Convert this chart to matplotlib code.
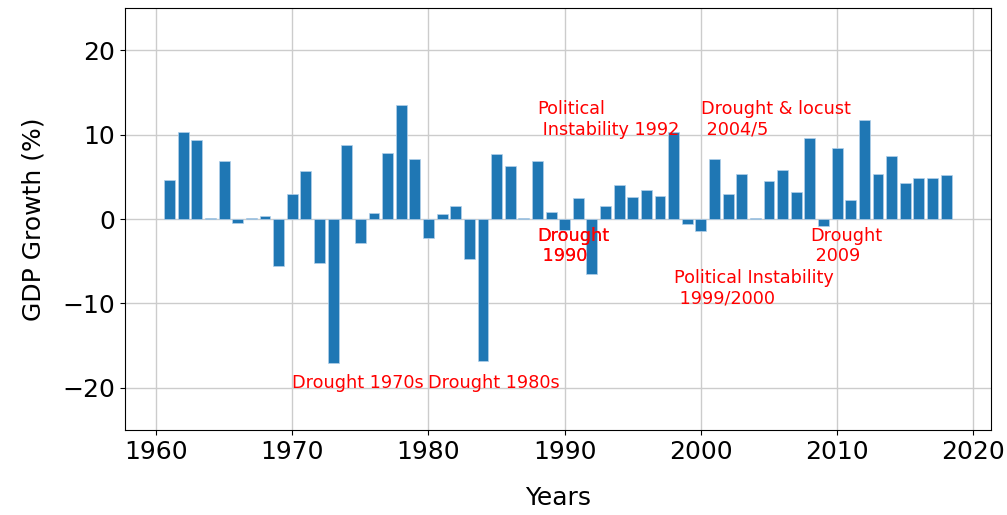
import matplotlib.pyplot as plt

years = list(range(1961, 2019))
growth = [4.6, 10.3, 9.4, 0.1, 6.9, -0.4, 0.1, 0.4, -5.5, 3.0,
          5.7, -5.2, -17.1, 8.8, -2.8, 0.7, 7.8, 13.5, 7.1, -2.2,
          0.6, 1.6, -4.7, -16.8, 7.7, 6.3, 0.1, 6.9, 0.9, -1.3,
          2.5, -6.5, 1.5, 4.0, 2.6, 3.4, 2.8, 10.3, -0.6, -1.4,
          7.1, 3.0, 5.3, 0.1, 4.5, 5.8, 3.2, 9.6, -0.8, 8.4,
          2.3, 11.8, 5.3, 7.5, 4.3, 4.9, 4.9, 5.2]

notes = ["Drought 1970s", "Drought 1980s", "Political\n Instability 1992",
         "Drought\n 1990", "Drought\n 1990", "Political Instability\n 1999/2000",
         "Drought & locust\n 2004/5", "Drought\n 2009"]
note_x = [1970, 1980, 1988, 1988, 1988, 1998, 2000, 2008]
note_y = [-20, -20, 10, -5, -5, -10, 10, -5]

fig = plt.figure(figsize=(10.07, 5.15), dpi=100)
ax = fig.add_axes([0.124, 0.165, 0.86, 0.819])
ax.bar(years, growth, width=0.8, color='#1f77b4', edgecolor='#b3d0ea', linewidth=0.5, zorder=2)
ax.set_ylim(-25, 25)
ax.set_yticks([-20, -10, 0, 10, 20])
ax.grid(True, color='#cccccc', linewidth=1, zorder=0)
ax.set_axisbelow(True)
ax.tick_params(labelsize=18)
ax.set_xlabel('Years', fontsize=18, labelpad=16)
ax.set_ylabel('GDP Growth (%)', fontsize=18, labelpad=12)

for t, x, y in zip(notes, note_x, note_y):
    ax.annotate(t, (x, y), color='red', fontsize=12.7)

fig.savefig('out.png', dpi=100)
